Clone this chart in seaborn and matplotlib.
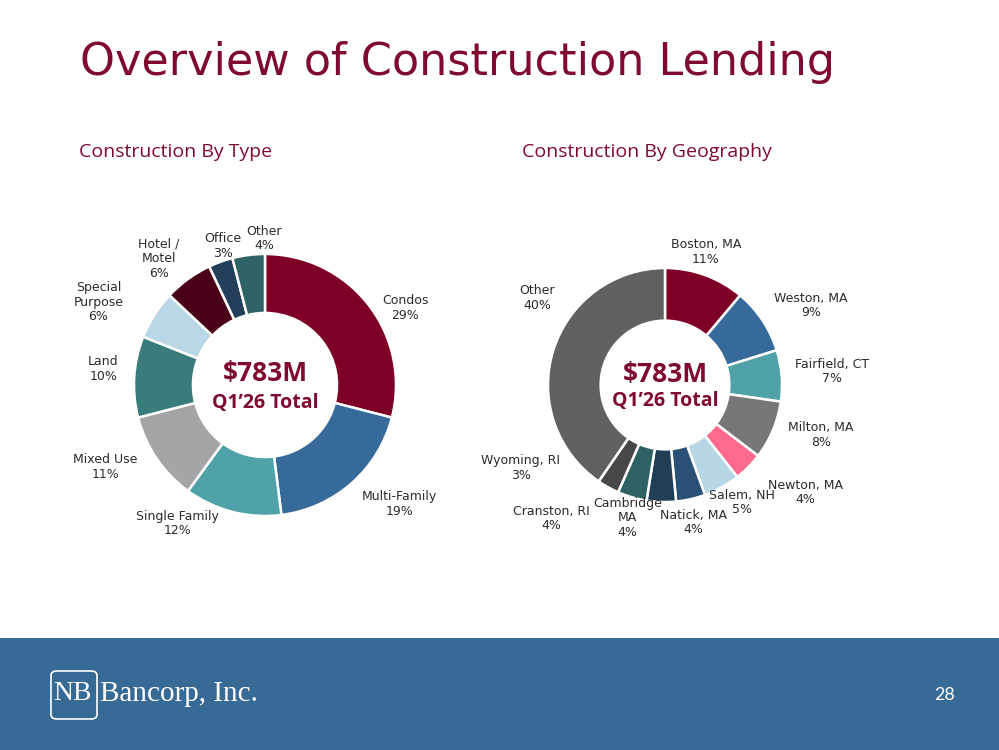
import matplotlib.pyplot as plt
import seaborn as sns
import numpy as np
from matplotlib.patches import Rectangle, FancyBboxPatch

sns.set_theme(style="white")
plt.rcParams['font.family'] = ['Lato', 'DejaVu Sans']

# --- data ---
type_labels = ['Condos', 'Multi-Family', 'Single Family', 'Mixed Use', 'Land',
               'Special\nPurpose', 'Hotel /\nMotel', 'Office', 'Other']
type_pct = [29, 19, 12, 11, 10, 6, 6, 3, 4]
type_colors = ['#7f0025', '#366a9a', '#4fa3a8', '#a5a5a7', '#3a7c7b',
               '#b9d7e6', '#4a0019', '#243f5a', '#2f6366']

geo_labels = ['Boston, MA', 'Weston, MA', 'Fairfield, CT', 'Milton, MA', 'Newton, MA',
              'Salem, NH', 'Natick, MA', 'Cambridge\nMA', 'Cranston, RI', 'Wyoming, RI', 'Other']
geo_pct = [11, 9, 7, 8, 4, 5, 4, 4, 4, 3, 40]
geo_colors = ['#7f0025', '#366a9a', '#4fa3a8', '#77777a', '#fd6a8d',
              '#b7d6e6', '#2a5075', '#213e57', '#2e6163', '#474749', '#616163']

# label placement: distance (in radii) and angle shift from wedge middle
type_dist = [1.22, 1.37, 1.25, 1.37, 1.24, 1.42, 1.26, 1.11, 1.12]
type_shift = [-9, 7, -18, -7, -2, 6, 4, -3, -7]
geo_dist = [1.19, 1.42, 1.43, 1.40, 1.51, 1.20, 1.20, 1.18, 1.50, 1.42, 1.32]
geo_shift = [3, -5, 0, 5, 7, 4, -1, -14, -24, -31, -17]

RED = '#7f0a2e'
LABEL_FONT = ['DejaVu Sans']

fig = plt.figure(figsize=(9.99, 7.5), dpi=100)
fig.patch.set_facecolor('white')


def donut(rect, lim, values, labels, colors, dist, shift):
    ax = fig.add_axes(rect)
    wedges, _ = ax.pie(values, colors=colors, startangle=90, counterclock=False,
                       radius=1, wedgeprops=dict(width=0.45, edgecolor='white', linewidth=1.8))
    for w, lab, v, d, s in zip(wedges, labels, values, dist, shift):
        mid = np.deg2rad((w.theta1 + w.theta2) / 2 + s)
        ax.text(d * np.cos(mid), d * np.sin(mid), f'{lab}\n{v}%', ha='center', va='center',
                fontsize=9, color='#2b2b2b', linespacing=1.15, family=LABEL_FONT)
    ax.text(0, 0.09, '$783M', ha='center', va='center', fontsize=19, fontweight='bold',
            color=RED, family=['Open Sans', 'DejaVu Sans'])
    ax.text(0, -0.14, 'Q1\u201926 Total', ha='center', va='center', fontsize=14, fontweight='bold',
            color=RED, family=['Open Sans', 'DejaVu Sans'])
    ax.set_xlim(-lim, lim)
    ax.set_ylim(-lim, lim)
    ax.set_aspect('equal')
    ax.axis('off')
    return ax


# left donut: center (265,385) px, radius 131 px
sz = 2 * 1.6 * 131
donut([(265 - sz / 2) / 999, (365 - sz / 2) / 750, sz / 999, sz / 750], 1.6,
      type_pct, type_labels, type_colors, type_dist, type_shift)

# right donut: center (665,385) px, radius 117 px
sz = 2 * 1.8 * 117
donut([(665 - sz / 2) / 999, (365 - sz / 2) / 750, sz / 999, sz / 750], 1.8,
      geo_pct, geo_labels, geo_colors, geo_dist, geo_shift)

# titles
fig.text(80 / 999, 1 - 62 / 750, 'Overview of Construction Lending', fontsize=32,
         color=RED, va='center', ha='left', family=['DejaVu Sans'])
fig.text(79 / 999, 1 - 152 / 750, 'Construction By Type', fontsize=14,
         color=RED, va='center', ha='left', family=['Open Sans', 'DejaVu Sans'])
fig.text(522 / 999, 1 - 152 / 750, 'Construction By Geography', fontsize=14,
         color=RED, va='center', ha='left', family=['Open Sans', 'DejaVu Sans'])

# footer band
fig.patches.append(Rectangle((0, 0), 1, 112 / 750, transform=fig.transFigure,
                             facecolor='#376a94', edgecolor='none', zorder=0))
fig.patches.append(FancyBboxPatch((51 / 999, 1 - 719 / 750), 46 / 999, 48 / 750,
                                  boxstyle='round,pad=0,rounding_size=0.006',
                                  transform=fig.transFigure, facecolor='none',
                                  edgecolor='white', linewidth=1.2, zorder=1))
fig.text(53 / 999, 1 - 694 / 750, 'NB', fontsize=20, color='white', va='center', ha='left',
         family=['Liberation Serif', 'DejaVu Serif'])
fig.text(100 / 999, 1 - 694 / 750, 'Bancorp, Inc.', fontsize=21, color='white', va='center',
         ha='left', family=['Liberation Serif', 'DejaVu Serif'])
fig.text(955 / 999, 1 - 695 / 750, '28', fontsize=13, color='white', va='center', ha='right')

fig.savefig('out.png', dpi=100)
